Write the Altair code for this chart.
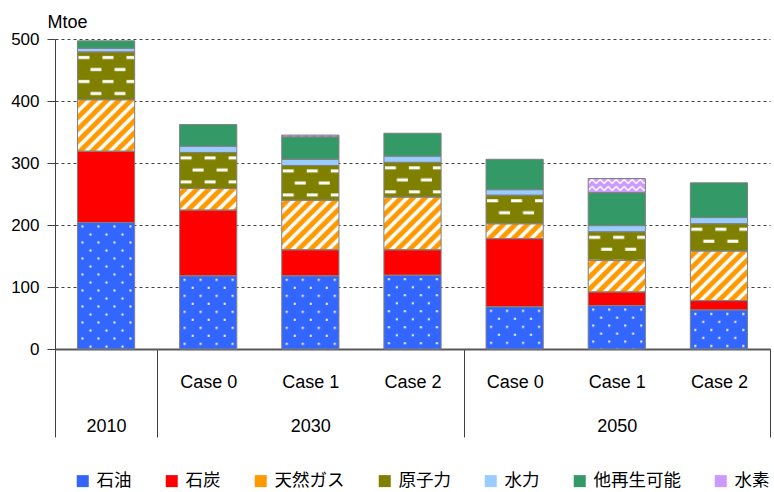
import altair as alt
import pandas as pd
from urllib.parse import quote

# ---- data (Mtoe) ----
years = ["2010", "2030", "2030", "2030", "2050", "2050", "2050"]
cases = ["", "Case 0", "Case 1", "Case 2", "Case 0", "Case 1", "Case 2"]
series = ["石油", "石炭", "天然ガス", "原子力", "水力", "他再生可能", "水素"]

oil = [204, 118, 118, 119, 68, 70, 63]
coal = [115, 106, 42, 41, 110, 22, 15]
gas = [83, 35, 80, 85, 24, 51, 80]
nuclear = [77, 58, 56, 56, 46, 46, 44]
hydro = [6, 10, 10, 10, 9, 10, 10]
renewables = [12, 35, 36, 37, 49, 53, 56]
hydrogen = [0, 0, 3, 0, 0, 23, 0]

series_values = [oil, coal, gas, nuclear, hydro, renewables, hydrogen]

# ---- styles ----
colors = ["#3366FF", "#FF0000", "#FF9900", "#808000", "#99CCFF", "#339966", "#CC99FF"]


def svg_pattern(w, h, body):
    svg = ("<svg xmlns='http://www.w3.org/2000/svg' width='100%' height='100%'>"
           "<defs><pattern id='p' width='{w}' height='{h}' patternUnits='userSpaceOnUse'>"
           "{body}</pattern></defs><rect width='100%' height='100%' fill='url(#p)'/></svg>"
           ).format(w=w, h=h, body=body)
    return "data:image/svg+xml;charset=utf-8," + quote(svg)


patterns = {
    "石油": svg_pattern(16, 16, "<rect x='4' y='3' width='2' height='2' fill='#fff'/>"
                               "<rect x='12' y='11' width='2' height='2' fill='#fff'/>"),
    "天然ガス": svg_pattern(12, 12, "<g stroke='#fff' stroke-width='3.6'>"
                                 "<line x1='-6' y1='6' x2='6' y2='-6'/>"
                                 "<line x1='0' y1='12' x2='12' y2='0'/>"
                                 "<line x1='6' y1='18' x2='18' y2='6'/></g>"),
    "原子力": svg_pattern(24, 24, "<rect x='1' y='4' width='11' height='3' fill='#fff'/>"
                                "<rect x='13' y='16' width='11' height='3' fill='#fff'/>"),
    "水素": svg_pattern(8, 7, "<polyline points='0,5 4,1 8,5' fill='none' stroke='#fff' stroke-width='1.4'/>"),
}

slots = [f"{y}|{c}" for y, c in zip(years, cases)]

rows = []
for s_i, (name, vals) in enumerate(zip(series, series_values)):
    for slot, v in zip(slots, vals):
        rows.append({"slot": slot, "series": name, "order": s_i, "value": v,
                     "url": patterns.get(name, "")})
df = pd.DataFrame(rows)

# label expression: case on first line, year (centered in group) on second line
group_idx = {}
for i, y in enumerate(years):
    group_idx.setdefault(y, []).append(i)
label_map = {}
for y, idx in group_idx.items():
    mid = idx[len(idx) // 2]
    for i in idx:
        label_map[slots[i]] = [cases[i] if cases[i] else " ", y if i == mid else " "]

expr = "[' ', ' ']"
for k, v in reversed(list(label_map.items())):
    expr = f"datum.value == '{k}' ? ['{v[0]}', '{v[1]}'] : ({expr})"

# separator ticks sit at the end of the last slot of each year group (+ the extra start tick)
last_slots = [slots[idx[-1]] for idx in group_idx.values()]
tick_test = " || ".join([f"datum.value == '{s}'" for s in last_slots]) + " || !isValid(datum.value)"

FONT = "Liberation Sans"

x_enc = alt.X(
    "slot:N",
    sort=slots,
    scale=alt.Scale(domain=slots, paddingInner=0, paddingOuter=0),
    axis=alt.Axis(
        title=None,
        labelExpr=expr,
        labelAngle=0,
        labelFont=FONT,
        labelFontSize=18,
        labelColor="#000000",
        labelBaseline="top",
        labelLineHeight=44,
        labelPadding=-64,
        tickBand="extent",
        tickSize=88,
        tickColor="#404040",
        tickWidth=1,
        tickOpacity={"condition": {"test": tick_test, "value": 1}, "value": 0},
        domainColor="#595959",
        domainWidth=2,
        grid=False,
    ),
)

y_enc = alt.Y(
    "y0:Q",
    scale=alt.Scale(domain=[0, 500], nice=False),
    axis=alt.Axis(
        values=[0, 100, 200, 300, 400, 500],
        title="Mtoe",
        titleAngle=0,
        titleAlign="left",
        titleBaseline="alphabetic",
        titleX=-8,
        titleY=-12,
        titleFont=FONT,
        titleFontSize=18,
        titleFontWeight="normal",
        titleColor="#000000",
        labelFont=FONT,
        labelFontSize=17,
        labelColor="#000000",
        labelPadding=8,
        tickSize=8,
        tickColor="#404040",
        domainColor="#404040",
        grid=True,
        gridDash=[3, 3],
        gridColor="#404040",
        gridWidth=1,
    ),
)

BAR_W = alt.RelativeBandSize(0.56)

base = alt.Chart(df).transform_filter("datum.value > 0").transform_stack(
    stack="value", groupby=["slot"], as_=["y0", "y1"],
    sort=[alt.SortField("order", order="ascending")],
)

fill_layer = base.mark_bar(strokeWidth=0, width=BAR_W).encode(
    x=x_enc,
    y=y_enc,
    y2="y1:Q",
    color=alt.Color(
        "series:N",
        sort=series,
        scale=alt.Scale(domain=series, range=colors),
        legend=alt.Legend(
            title=None,
            orient="none",
            legendX=19,
            legendY=433,
            direction="horizontal",
            columns=7,
            symbolType="square",
            symbolSize=144,
            symbolStrokeWidth=0,
            labelFont="Noto Sans CJK JP",
            labelFontSize=17.5,
            labelColor="#000000",
            labelOffset=5,
            columnPadding=31,
        ),
    ),
)

pattern_layer = base.transform_filter("datum.url != ''").mark_image(aspect=False, width=BAR_W).encode(
    x=x_enc, y=y_enc, y2="y1:Q", url="url:N"
)

stroke_layer = base.mark_bar(fillOpacity=0, stroke="#808080", strokeWidth=1, width=BAR_W).encode(
    x=x_enc, y=y_enc, y2="y1:Q"
)

chart = alt.layer(fill_layer, pattern_layer, stroke_layer).properties(
    width=715,
    height=310,
    autosize=alt.AutoSizeParams(type="none"),
    padding={"left": 55, "top": 39, "right": 4, "bottom": 143},
    background="white",
).configure_view(stroke=None)

chart.save("out.html", embed_options={"renderer": "svg", "actions": False})
